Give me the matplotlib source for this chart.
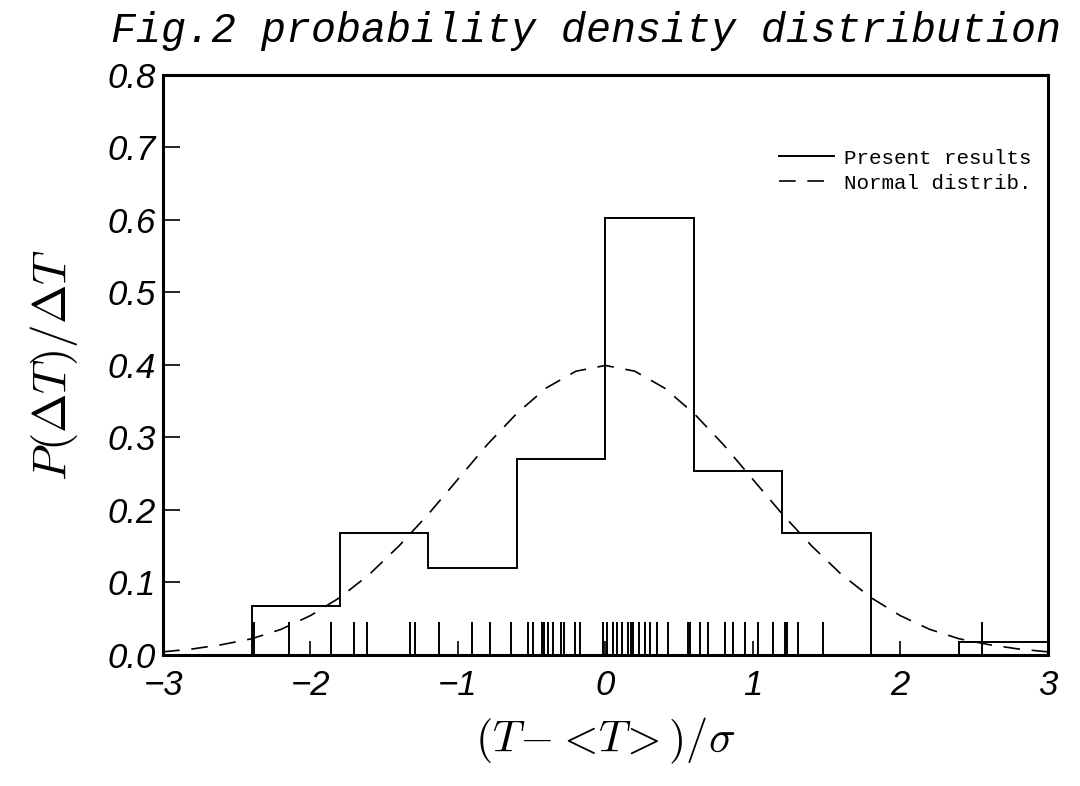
import matplotlib
matplotlib.use("Agg")
import matplotlib.pyplot as plt

# histogram of present results
bin_edges = [-2.4, -1.8, -1.2, -0.6, 0.0, 0.6, 1.2, 1.8, 2.4, 3.0]
bin_heights = [0.067, 0.168, 0.120, 0.270, 0.602, 0.253, 0.168, 0.0, 0.017]

# normal distribution curve
norm_x = [-3.0, -2.8, -2.6, -2.4, -2.2, -2.0, -1.8, -1.6, -1.4, -1.2, -1.0,
          -0.8, -0.6, -0.4, -0.2, 0.0, 0.2, 0.4, 0.6, 0.8, 1.0, 1.2, 1.4,
          1.6, 1.8, 2.0, 2.2, 2.4, 2.6, 2.8, 3.0]
norm_y = [0.004, 0.008, 0.014, 0.022, 0.035, 0.054, 0.079, 0.111, 0.150,
          0.194, 0.242, 0.290, 0.333, 0.368, 0.391, 0.399, 0.391, 0.368,
          0.333, 0.290, 0.242, 0.194, 0.150, 0.111, 0.079, 0.054, 0.035,
          0.022, 0.014, 0.008, 0.004]

# individual samples (rug)
rug_x = [-2.384, -2.147, -1.862, -1.707, -1.619, -1.327, -1.293, -1.131,
         -0.907, -0.779, -0.643, -0.528, -0.494, -0.433, -0.413, -0.386,
         -0.352, -0.298, -0.278, -0.203, -0.169, -0.014, 0.013, 0.054,
         0.081, 0.115, 0.156, 0.176, 0.190, 0.230, 0.271, 0.305, 0.352,
         0.427, 0.562, 0.576, 0.643, 0.697, 0.813, 0.867, 0.948, 1.036,
         1.138, 1.219, 1.232, 1.307, 1.476, 2.553]
rug_h = 0.045

x_ticks = [-3, -2, -1, 0, 1, 2, 3]
y_ticks = [0.0, 0.1, 0.2, 0.3, 0.4, 0.5, 0.6, 0.7, 0.8]

plt.rcParams['mathtext.fontset'] = 'cm'

fig = plt.figure(figsize=(10.8, 7.86), dpi=100)
ax = fig.add_axes([0.151, 0.167, 0.819, 0.738])

ax.stairs(bin_heights, bin_edges, baseline=0, color='k', lw=1.4,
          label='Present results')
ax.plot(norm_x, norm_y, color='k', lw=1.2, linestyle=(0, (10, 7)),
        label='Normal distrib.')
ax.vlines(rug_x, 0, rug_h, color='k', lw=1.4)

ax.set_xlim(-3, 3)
ax.set_ylim(0, 0.8)
ax.set_xticks(x_ticks)
ax.set_yticks(y_ticks)
ax.set_xticklabels([str(t).replace('-', '\u2212') for t in x_ticks])
ax.set_yticklabels(['%.1f' % t for t in y_ticks])
ax.tick_params(axis='x', direction='in', length=10, width=1.2, pad=10)
ax.tick_params(axis='y', direction='in', length=12, width=1.2, pad=5)
for lab in ax.get_xticklabels() + ax.get_yticklabels():
    lab.set_family('Liberation Sans')
    lab.set_style('italic')
    lab.set_fontsize(25)
for s in ax.spines.values():
    s.set_linewidth(2.2)

ax.set_xlabel(r'$(T\!-\!<\!T\!>)/\sigma$', fontsize=32, labelpad=10)
ax.set_ylabel(r'$P(\Delta T)/\Delta T$', fontsize=34, labelpad=20)

fig.text(0.543, 0.947, 'Fig.2 probability density distribution',
         ha='center', va='baseline', family='Liberation Mono',
         style='italic', fontsize=30)

ax.legend(loc='upper right', bbox_to_anchor=(1.003, 0.905), frameon=False,
          prop={'family': 'Liberation Mono', 'size': 15},
          handlelength=2.6, handletextpad=0.5, labelspacing=0.3)

fig.savefig('out.png', dpi=100)
